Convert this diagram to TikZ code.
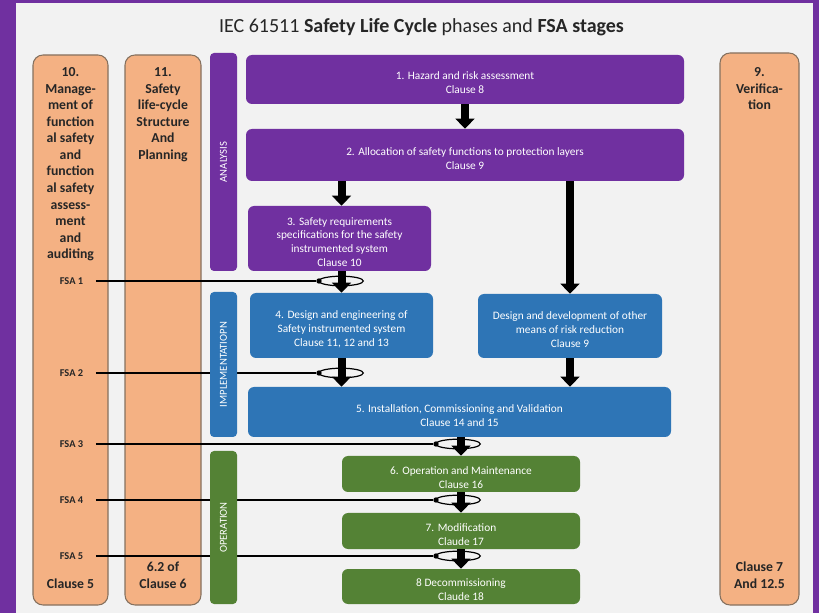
\documentclass[tikz,border=0pt]{standalone}
\usepackage{fontspec}
\setmainfont{Carlito}
\usetikzlibrary{arrows.meta,fit,shapes.geometric}

\definecolor{framepurple}{HTML}{7030A0}
\definecolor{panelgray}{HTML}{F2F2F2}
\definecolor{analysis}{HTML}{7030A0}
\definecolor{implement}{HTML}{2E75B6}
\definecolor{operate}{HTML}{548235}
\definecolor{peach}{HTML}{F4B183}
\definecolor{peachedge}{HTML}{85715F}
\definecolor{inkdark}{HTML}{262626}

\begin{document}
\begin{tikzpicture}[
  x=0.75pt, y=-0.75pt,
  column/.style={draw=peachedge, line width=0.8pt, fill=peach, rounded corners=7.5pt, inner sep=0pt},
  coltext/.style={inner sep=0pt, align=center, text=inkdark,
    font=\fontsize{10.3}{12.4}\selectfont\bfseries},
  phasebar/.style={fill=#1, rounded corners=3pt, inner sep=0pt},
  phasetext/.style={rotate=90, text=white, inner sep=0pt, font=\fontsize{8}{9}\selectfont},
  stage/.style={fill=#1, rounded corners=4.5pt, inner sep=0pt},
  stagetext/.style={inner sep=0pt, align=center, text=white, yshift=-2.6pt,
    font=\fontsize{8.5}{10.4}\selectfont},
  fsalabel/.style={text=inkdark, font=\fontsize{7.8}{9}\selectfont\bfseries},
  fsaline/.style={line width=1.2pt, shorten <=6pt},
  fsadot/.style={circle, fill=black, inner sep=0pt, minimum size=4pt},
  fsaring/.style={ellipse, draw=black, line width=0.9pt, inner sep=0pt,
    minimum width=33.5pt, minimum height=7.2pt},
  flow/.style={line width=6pt, -{Triangle[width=14pt,length=7.5pt]}}
]
\useasboundingbox (0,0) rectangle (819,613);

% frame and panel
\fill[framepurple] (0,0) rectangle (819,613);
\fill[panelgray] (16,3) rectangle (813,613);

% title
\node[text=inkdark, font=\fontsize{15}{18}\selectfont] (title) at (421.5,27)
  {IEC 61511 \textbf{Safety Life Cycle} phases and \textbf{FSA stages}};

% side columns
\node[column, fit={(33,55)(108,605)}] (c10) {};
\node[column, fit={(125,55)(201,605)}] (c11) {};
\node[column, fit={(720,53)(799,605)}] (c9) {};

\node[coltext, anchor=north] (c10head) at (70.5,67.5)
  {10.\\Manage-\\ment of\\function\\al safety\\and\\function\\al safety\\assess-\\ment\\and\\auditing};
\node[coltext, anchor=south] (c10foot) at (70.5,588.5) {Clause 5};

\node[coltext, anchor=north] (c11head) at (163,67.5)
  {11.\\Safety\\life-cycle\\Structure\\And\\Planning};
\node[coltext, anchor=south] (c11foot) at (163,588.5) {6.2 of\\Clause 6};

\node[coltext, anchor=north] (c9head) at (759.5,67.5) {9.\\Verifica-\\tion};
\node[coltext, anchor=south] (c9foot) at (759.5,588.5) {Clause 7\\And 12.5};

% FSA stage markers
\node[fsalabel] (fsa1) at (71.5,281) {FSA 1};
\node[fsalabel] (fsa2) at (71.5,373) {FSA 2};
\node[fsalabel] (fsa3) at (71.5,444) {FSA 3};
\node[fsalabel] (fsa4) at (71.5,500) {FSA 4};
\node[fsalabel] (fsa5) at (71.5,556) {FSA 5};

\node[fsadot] (d1) at (319,281) {};
\node[fsadot] (d2) at (319,373) {};
\node[fsadot] (d3) at (436,444) {};
\node[fsadot] (d4) at (436,500) {};
\node[fsadot] (d5) at (436,556) {};

\draw[fsaline] (fsa1) -- (d1);
\draw[fsaline] (fsa2) -- (d2);
\draw[fsaline] (fsa3) -- (d3);
\draw[fsaline] (fsa4) -- (d4);
\draw[fsaline] (fsa5) -- (d5);

% phase bars
\node[phasebar=analysis, fit={(210,53)(237,271)}] (pA) {};
\node[phasebar=implement, fit={(210,292)(237,437)}] (pI) {};
\node[phasebar=operate, fit={(210,451)(237,604)}] (pO) {};
\node[phasetext] (pAtext) at (pA.center) {ANALYSIS};
\node[phasetext] (pItext) at (pI.center) {IMPLEMENTATIOPN};
\node[phasetext] (pOtext) at (pO.center) {OPERATION};

% life-cycle stages
\node[stage=analysis, fit={(246,55)(684,104)}] (b1) {};
\node[stage=analysis, fit={(246,129)(684,181)}] (b2) {};
\node[stage=analysis, fit={(248,206)(431,271)}] (b3) {};
\node[stage=implement, fit={(250,293)(433,358)}] (b4) {};
\node[stage=implement, fit={(478,294)(662,358)}] (bo) {};
\node[stage=implement, fit={(248,387)(671,437)}] (b5) {};
\node[stage=operate, fit={(342,456)(580,492)}] (b6) {};
\node[stage=operate, fit={(342,513)(580,549)}] (b7) {};
\node[stage=operate, fit={(342,569)(580,604)}] (b8) {};

\node[stagetext] (b1text) at (b1) {1. Hazard and risk assessment\\Clause 8};
\node[stagetext] (b2text) at (b2) {2. Allocation of safety functions to protection layers\\Clause 9};
\node[stagetext] (b3text) at (b3)
  {3. Safety requirements\\specifications for the safety\\instrumented system\\Clause 10};
\node[stagetext] (b4text) at (b4)
  {4. Design and engineering of\\Safety instrumented system\\Clause 11, 12 and 13};
\node[stagetext] (botext) at (bo)
  {Design and development of other\\means of risk reduction\\Clause 9};
\node[stagetext] (b5text) at (b5) {5. Installation, Commissioning and Validation\\Clause 14 and 15};
\node[stagetext] (b6text) at (b6) {6. Operation and Maintenance\\Clause 16};
\node[stagetext] (b7text) at (b7) {7. Modification\\Claude 17};
\node[stagetext] (b8text) at (b8) {8 Decommissioning\\Claude 18};

% assessment rings around the flow arrows
\node[fsaring] (r1) at (341,281) {};
\node[fsaring] (r2) at (341,373) {};
\node[fsaring] (r3) at (458,444) {};
\node[fsaring] (r4) at (458,500) {};
\node[fsaring] (r5) at (458,556) {};

% flow arrows
\draw[flow] (b1) -- (b2);
\draw[flow] (b2.south -| b4) -- (b3.north -| b4);
\draw[flow] (b2.south -| bo) -- (bo);
\draw[flow] (b3.south -| b4) -- (b4);
\draw[flow] (b4) -- (b5.north -| b4);
\draw[flow] (bo) -- (b5.north -| bo);
\draw[flow] (b5.south -| b6) -- (b6);
\draw[flow] (b6) -- (b7);
\draw[flow] (b7) -- (b8);
\end{tikzpicture}
\end{document}
